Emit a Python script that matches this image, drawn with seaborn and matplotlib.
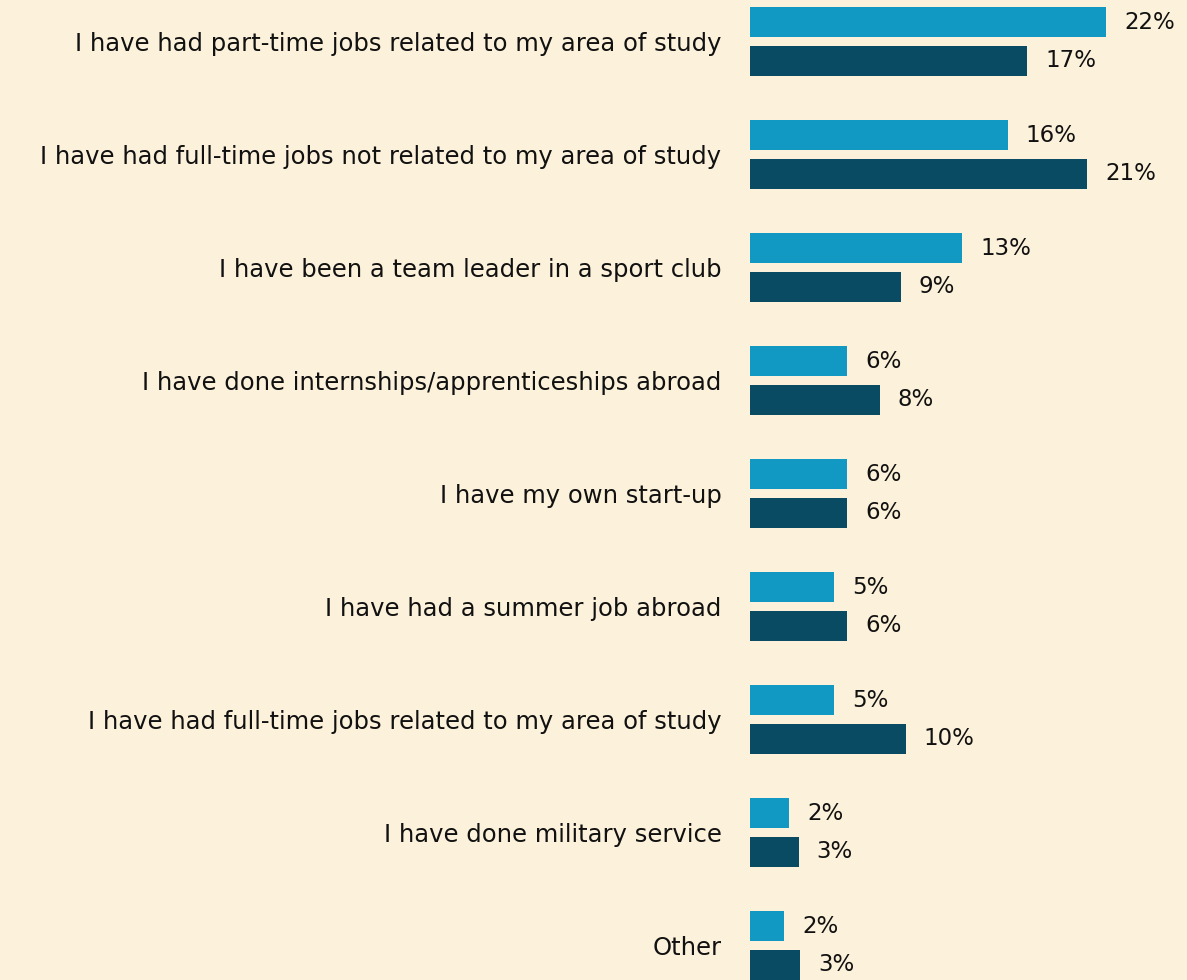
import pandas as pd
import matplotlib
matplotlib.use("Agg")
import matplotlib.pyplot as plt
import seaborn as sns

# Data (bar lengths as drawn, labels rounded)
items = [
    "I have had part-time jobs related to my area of study",
    "I have had full-time jobs not related to my area of study",
    "I have been a team leader in a sport club",
    "I have done internships/apprenticeships abroad",
    "I have my own start-up",
    "I have had a summer job abroad",
    "I have had full-time jobs related to my area of study",
    "I have done military service",
    "Other",
]
group_a = [22.0, 15.9, 13.1, 6.0, 6.0, 5.2, 5.2, 2.4, 2.1]
group_b = [17.1, 20.8, 9.3, 8.0, 6.0, 6.0, 9.6, 3.0, 3.1]
groups = ["Group A", "Group B"]

df = pd.DataFrame({
    "item": items * 2,
    "value": group_a + group_b,
    "group": [groups[0]] * len(items) + [groups[1]] * len(items),
})

bg = "#FCF1DA"
sns.set_style("white")
plt.rcParams["font.family"] = ["DejaVu Sans"]

fig = plt.figure(figsize=(11.87, 9.8), dpi=100, facecolor=bg)
ax = fig.add_axes([750 / 1187, 0, 437 / 1187, 1])
ax.set_facecolor(bg)

sns.barplot(
    data=df, y="item", x="value", hue="group",
    palette=["#1199C4", "#084B62"], saturation=1, width=0.69, gap=0.23,
    linewidth=0, legend=False, ax=ax, orient="h",
)

# percent labels next to each bar
for cont in ax.containers:
    ax.bar_label(cont, labels=[f"{v:.0f}%" for v in cont.datavalues],
                 padding=13, fontsize=16.5, color="#111111")

ax.set_xlim(0, 437 / 16.2)
ax.set_ylim(8 + 34.5 / 113, -41.5 / 113)
ax.set_xlabel("")
ax.set_ylabel("")
ax.set_xticks([])
ax.tick_params(axis="y", left=False, pad=17, labelsize=17.5, labelcolor="#111111")
sns.despine(ax=ax, left=True, bottom=True)

fig.savefig("out.png", dpi=100, facecolor=bg)
